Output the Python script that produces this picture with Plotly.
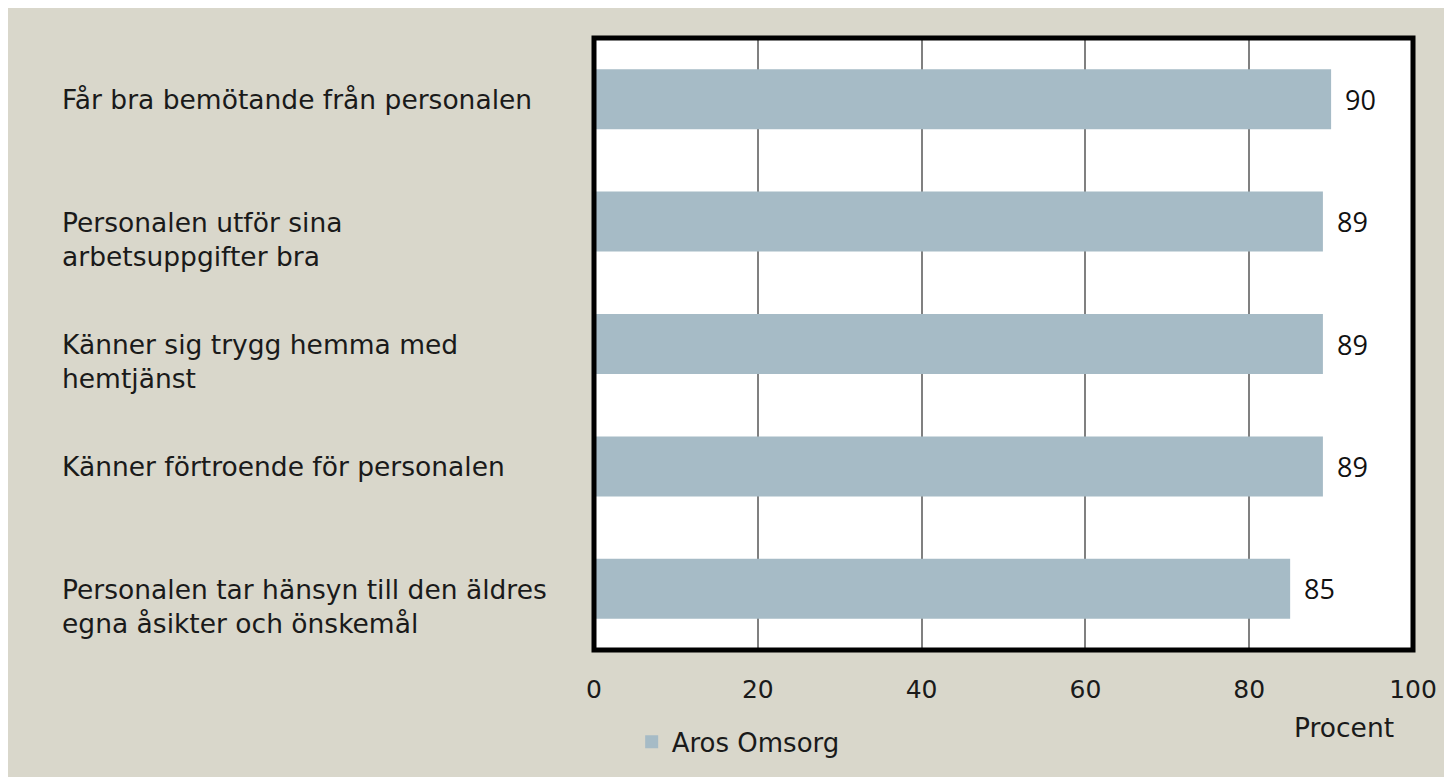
import plotly.graph_objects as go

categories = [
    "Får bra bemötande från personalen",
    "Personalen utför sina<br>arbetsuppgifter bra",
    "Känner sig trygg hemma med<br>hemtjänst",
    "Känner förtroende för personalen",
    "Personalen tar hänsyn till den äldres<br>egna åsikter och önskemål",
]
values = [90, 89, 89, 89, 85]
series_name = "Aros Omsorg"
x_ticks = [0, 20, 40, 60, 80, 100]
x_title = "Procent"

BG = "#D9D7CB"
BAR = "#A6BBC6"
LABEL_FONT = "DejaVu Sans"
TXT = "#1a1a1a"

fig = go.Figure()
fig.add_trace(go.Bar(
    x=values, y=categories, orientation="h", name=series_name,
    marker=dict(color=BAR, line=dict(width=0)),
    showlegend=False,
))
fig.add_trace(go.Scatter(
    x=[None], y=[None], mode="markers", name=series_name,
    marker=dict(symbol="square", size=13, color=BAR),
    showlegend=True, hoverinfo="skip",
))

annotations = []
for c in categories:
    annotations.append(dict(
        x=-0.6525, xref="paper", y=c, yref="y", text=c,
        xanchor="left", yanchor="top", yshift=17, align="left", showarrow=False,
        font=dict(family=LABEL_FONT, size=26.5, color=TXT),
    ))
for c, v in zip(categories, values):
    annotations.append(dict(
        x=v, xref="x", y=c, yref="y", text=str(v), xanchor="left",
        yanchor="middle", xshift=12, showarrow=False,
        font=dict(family="Open Sans", size=27, color="#111111"),
    ))
annotations.append(dict(
    x=0.916, xref="paper", y=-0.127, yref="paper", text=x_title,
    xanchor="center", yanchor="middle", showarrow=False,
    font=dict(family=LABEL_FONT, size=26.5, color=TXT),
))

fig.update_layout(
    width=1444, height=769,
    margin=dict(l=586, r=39, t=30, b=127),
    paper_bgcolor=BG, plot_bgcolor="white",
    bargap=0.51,
    annotations=annotations,
    shapes=[dict(type="rect", xref="paper", yref="paper", x0=0, x1=1, y0=0, y1=1,
                 line=dict(color="black", width=5), fillcolor="rgba(0,0,0,0)",
                 layer="above")],
    legend=dict(orientation="h", x=0.046, y=-0.150, xanchor="left", yanchor="middle",
                bgcolor="rgba(0,0,0,0)", itemwidth=30,
                font=dict(family=LABEL_FONT, size=26, color=TXT)),
    xaxis=dict(range=[0, 100], tickvals=x_ticks, showgrid=True,
               gridcolor="#808080", gridwidth=1.5, zeroline=False,
               showline=False, ticks="", ticklabelstandoff=22,
               tickfont=dict(family=LABEL_FONT, size=25, color=TXT)),
    yaxis=dict(categoryorder="array", categoryarray=categories, autorange="reversed",
               showticklabels=False, showgrid=False, zeroline=False,
               showline=False, ticks=""),
)

fig.write_html("out.html")
